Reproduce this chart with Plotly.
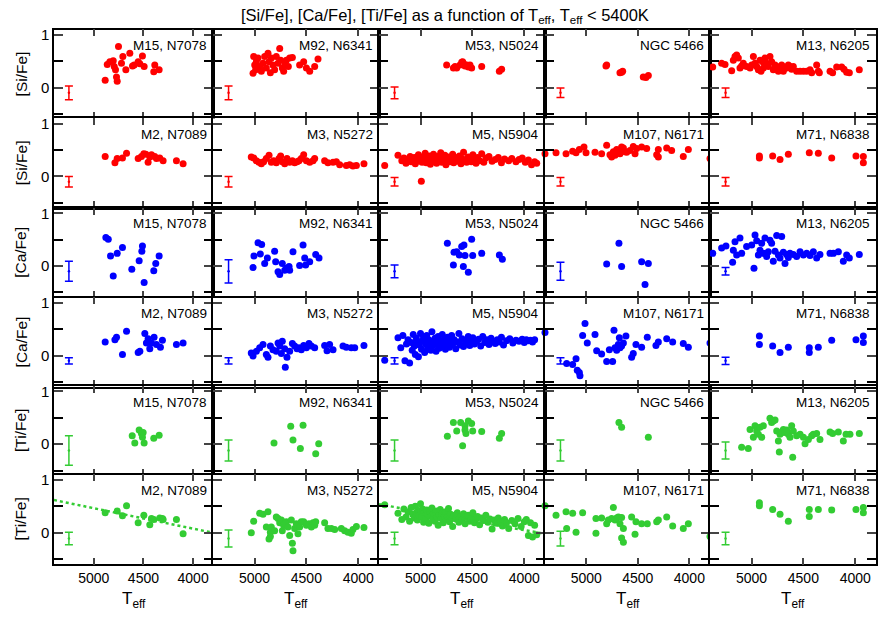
import plotly.graph_objects as go

# ---- data: Teff and abundance ratios ----
# row 1 / 3 / 5 clusters: M15, M92, M53, NGC 5466, M13
# row 2 / 4 / 6 clusters: M2, M3, M5, M107, M71

m15_si_t = [4885, 4864, 4838, 4804, 4794, 4781, 4771, 4764, 4751, 4721, 4707, 4677, 4637, 4610, 4593, 4553, 4536, 4510, 4493, 4386, 4396, 4342]
m15_si = [0.14, 0.44, 0.49, 0.51, 0.40, 0.34, 0.20, 0.12, 0.78, 0.46, 0.59, 0.34, 0.65, 0.41, 0.43, 0.49, 0.45, 0.60, 0.40, 0.43, 0.30, 0.34]

m92_si_t = [5014, 5008, 4998, 4989, 4982, 4966, 4950, 4934, 4918, 4902, 4886, 4870, 4860, 4847, 4838, 4822, 4806, 4790, 4773, 4757, 4748, 4732, 4719, 4706, 4693, 4674, 4661, 4635, 4565, 4526, 4500, 4468, 4420, 4388]
m92_si = [0.27, 0.59, 0.43, 0.34, 0.49, 0.56, 0.40, 0.31, 0.46, 0.59, 0.37, 0.65, 0.49, 0.28, 0.56, 0.43, 0.34, 0.59, 0.46, 0.74, 0.52, 0.37, 0.31, 0.43, 0.52, 0.40, 0.56, 0.57, 0.43, 0.49, 0.37, 0.31, 0.40, 0.54]

m53_si_t = [4748, 4683, 4667, 4651, 4619, 4603, 4594, 4587, 4571, 4555, 4539, 4523, 4507, 4410, 4240, 4218]
m53_si = [0.43, 0.37, 0.40, 0.37, 0.43, 0.48, 0.49, 0.46, 0.41, 0.43, 0.39, 0.43, 0.37, 0.40, 0.31, 0.35]

n5466_si_t = [4809, 4802, 4673, 4657, 4647, 4447, 4421, 4398]
n5466_si = [0.41, 0.43, 0.28, 0.29, 0.31, 0.20, 0.19, 0.23]

m13_si_t = [5374, 5288, 5255, 5191, 5175, 5159, 5143, 5127, 5111, 5095, 5079, 5047, 5014, 4998, 4982, 4966, 4950, 4934, 4918, 4908, 4892, 4886, 4870, 4854, 4838, 4822, 4806, 4790, 4773, 4757, 4741, 4725, 4709, 4693, 4661, 4645, 4629, 4613, 4597, 4565, 4532, 4500, 4468, 4436, 4420, 4372, 4356, 4346, 4243, 4218, 4179, 4131, 4108, 4083, 4057, 3961]
m13_si = [0.39, 0.46, 0.44, 0.32, 0.52, 0.59, 0.62, 0.56, 0.37, 0.41, 0.46, 0.40, 0.37, 0.43, 0.59, 0.46, 0.40, 0.34, 0.52, 0.31, 0.49, 0.37, 0.56, 0.46, 0.40, 0.59, 0.49, 0.34, 0.43, 0.40, 0.31, 0.37, 0.43, 0.31, 0.37, 0.43, 0.40, 0.35, 0.40, 0.31, 0.31, 0.31, 0.31, 0.34, 0.28, 0.43, 0.31, 0.28, 0.31, 0.28, 0.39, 0.39, 0.35, 0.29, 0.28, 0.34]

m2_si_t = [4885, 4787, 4764, 4711, 4670, 4553, 4520, 4496, 4476, 4453, 4436, 4419, 4386, 4369, 4336, 4302, 4168, 4101]
m2_si = [0.38, 0.26, 0.34, 0.35, 0.44, 0.34, 0.38, 0.43, 0.42, 0.27, 0.37, 0.41, 0.38, 0.34, 0.35, 0.30, 0.30, 0.24]

m3_si_t = [5031, 5008, 4982, 4957, 4934, 4912, 4886, 4860, 4838, 4815, 4790, 4764, 4748, 4732, 4709, 4687, 4661, 4635, 4613, 4590, 4571, 4549, 4526, 4500, 4468, 4436, 4420, 4324, 4292, 4243, 4211, 4179, 4115, 4083, 4051, 4018, 3945]
m3_si = [0.37, 0.35, 0.30, 0.27, 0.24, 0.28, 0.34, 0.40, 0.27, 0.30, 0.26, 0.34, 0.39, 0.28, 0.24, 0.34, 0.27, 0.30, 0.26, 0.28, 0.30, 0.34, 0.41, 0.30, 0.27, 0.30, 0.34, 0.30, 0.26, 0.27, 0.28, 0.22, 0.21, 0.22, 0.20, 0.21, 0.24]

m5_si_t = [5345, 5217, 5180, 5160, 5140, 5120, 5100, 5090, 5075, 5060, 5050, 5040, 5030, 5020, 5010, 4992, 4985, 4975, 4965, 4955, 4945, 4935, 4925, 4915, 4905, 4895, 4885, 4875, 4865, 4855, 4845, 4835, 4825, 4815, 4805, 4795, 4785, 4775, 4765, 4755, 4745, 4735, 4725, 4715, 4700, 4690, 4680, 4665, 4650, 4640, 4625, 4610, 4600, 4585, 4570, 4555, 4540, 4525, 4510, 4495, 4480, 4465, 4450, 4430, 4410, 4390, 4370, 4340, 4310, 4280, 4250, 4220, 4190, 4150, 4120, 4080, 4050, 4020, 3990, 3960, 3930, 3900, 3880]
m5_si = [0.21, 0.40, 0.30, 0.35, 0.25, 0.33, 0.38, 0.28, 0.31, 0.36, 0.24, 0.34, 0.29, 0.41, 0.32, -0.09, 0.27, 0.37, 0.30, 0.44, 0.26, 0.35, 0.31, 0.39, 0.23, 0.33, 0.28, 0.42, 0.30, 0.36, 0.25, 0.38, 0.32, 0.29, 0.45, 0.27, 0.34, 0.31, 0.40, 0.22, 0.35, 0.30, 0.37, 0.28, 0.33, 0.42, 0.26, 0.36, 0.31, 0.29, 0.39, 0.24, 0.34, 0.46, 0.30, 0.27, 0.37, 0.32, 0.28, 0.41, 0.33, 0.25, 0.36, 0.30, 0.43, 0.27, 0.35, 0.38, 0.29, 0.32, 0.36, 0.26, 0.33, 0.30, 0.34, 0.28, 0.32, 0.35, 0.27, 0.31, 0.22, 0.28, 0.25]

m107_si_t = [5400, 5293, 5196, 5132, 5099, 5067, 5022, 5002, 4915, 4851, 4802, 4770, 4754, 4737, 4721, 4705, 4689, 4673, 4657, 4640, 4624, 4608, 4576, 4544, 4527, 4511, 4463, 4414, 4317, 4301, 4301, 4220, 4172, 4059, 4010, 3800]
m107_si = [0.43, 0.45, 0.43, 0.48, 0.45, 0.51, 0.56, 0.45, 0.46, 0.43, 0.59, 0.41, 0.37, 0.47, 0.40, 0.51, 0.49, 0.43, 0.56, 0.54, 0.47, 0.46, 0.49, 0.57, 0.43, 0.53, 0.56, 0.53, 0.41, 0.37, 0.51, 0.54, 0.49, 0.38, 0.51, 0.34]

m71_si_t = [4924, 4924, 4796, 4725, 4645, 4443, 4356, 4227, 3993, 3922, 3922]
m71_si = [0.39, 0.35, 0.39, 0.32, 0.42, 0.45, 0.44, 0.35, 0.39, 0.38, 0.26]

m15_ca_t = [4878, 4854, 4831, 4804, 4764, 4711, 4617, 4543, 4516, 4510, 4493, 4396, 4376, 4342]
m15_ca = [0.54, 0.51, 0.19, -0.19, 0.24, 0.35, -0.06, 0.10, 0.28, 0.38, -0.31, -0.09, 0.05, 0.19]

m92_ca_t = [5014, 5005, 4966, 4944, 4931, 4902, 4876, 4806, 4796, 4773, 4757, 4732, 4709, 4693, 4667, 4661, 4629, 4565, 4532, 4516, 4507, 4468, 4410, 4378]
m92_ca = [-0.03, 0.19, 0.44, 0.23, 0.41, 0.05, 0.15, 0.28, 0.08, -0.11, -0.16, 0.05, -0.08, -0.04, -0.01, -0.08, 0.27, 0.01, 0.40, 0.15, 0.02, 0.08, 0.22, 0.15]

m53_ca_t = [4741, 4683, 4677, 4651, 4626, 4603, 4587, 4581, 4571, 4539, 4507, 4497, 4410, 4240, 4211]
m53_ca = [0.43, 0.02, 0.26, 0.27, 0.21, 0.37, -0.01, 0.40, 0.20, -0.12, 0.51, 0.20, 0.24, 0.21, 0.13]

n5466_ca_t = [4802, 4683, 4657, 4463, 4398, 4430]
n5466_ca = [0.04, 0.43, -0.01, 0.08, 0.05, -0.35]

m13_ca_t = [5374, 5288, 5246, 5182, 5175, 5159, 5143, 5111, 5095, 5047, 4998, 4976, 4966, 4950, 4934, 4918, 4902, 4886, 4870, 4854, 4838, 4822, 4806, 4790, 4773, 4757, 4741, 4725, 4709, 4693, 4677, 4661, 4645, 4629, 4597, 4565, 4532, 4500, 4468, 4436, 4404, 4372, 4340, 4243, 4211, 4163, 4115, 4083, 4057, 3961]
m13_ca = [0.24, 0.34, 0.38, 0.07, 0.30, 0.46, 0.21, 0.53, 0.24, 0.37, 0.40, -0.04, 0.59, 0.48, 0.21, 0.30, 0.43, 0.24, 0.53, 0.18, 0.27, 0.49, 0.43, 0.09, 0.28, 0.58, 0.21, 0.15, 0.56, 0.26, 0.05, 0.22, 0.16, 0.24, 0.22, 0.18, 0.27, 0.21, 0.24, 0.20, 0.27, 0.15, 0.22, 0.24, 0.24, 0.27, 0.09, 0.21, 0.15, 0.22]

m2_ca_t = [4885, 4787, 4771, 4711, 4670, 4553, 4536, 4486, 4470, 4453, 4436, 4419, 4393, 4369, 4329, 4309, 4168, 4101]
m2_ca = [0.26, 0.30, 0.35, 0.02, 0.46, 0.06, 0.08, 0.42, 0.24, 0.32, 0.13, 0.24, 0.35, 0.21, 0.16, 0.29, 0.21, 0.24]

m3_ca_t = [5031, 5014, 4982, 4950, 4918, 4886, 4870, 4847, 4822, 4790, 4773, 4757, 4741, 4732, 4709, 4687, 4661, 4635, 4613, 4590, 4571, 4549, 4526, 4500, 4475, 4452, 4420, 4324, 4301, 4276, 4243, 4147, 4115, 4067, 4034, 3945, 4703]
m3_ca = [0.05, -0.01, 0.08, 0.15, 0.21, 0.02, -0.03, 0.18, 0.11, 0.08, 0.24, 0.18, 0.04, 0.27, 0.13, -0.03, 0.08, 0.23, 0.18, 0.13, 0.15, 0.11, 0.19, 0.15, 0.23, 0.18, 0.15, 0.19, 0.09, 0.21, 0.11, 0.18, 0.16, 0.15, 0.15, 0.19, -0.22]

m5_ca_t = [5345, 5217, 5190, 5170, 5150, 5135, 5120, 5105, 5090, 5080, 5070, 5060, 5050, 5040, 5030, 5020, 5010, 5000, 4990, 4980, 4970, 4960, 4950, 4940, 4930, 4920, 4910, 4900, 4890, 4880, 4870, 4860, 4850, 4840, 4830, 4820, 4810, 4800, 4790, 4780, 4770, 4760, 4750, 4740, 4730, 4720, 4710, 4700, 4690, 4675, 4660, 4645, 4630, 4615, 4600, 4585, 4570, 4555, 4540, 4525, 4510, 4495, 4480, 4460, 4440, 4420, 4400, 4380, 4360, 4340, 4320, 4300, 4280, 4260, 4240, 4220, 4200, 4170, 4140, 4110, 4080, 4050, 4020, 4000, 3980, 3960, 3940, 3920, 3900]
m5_ca = [-0.09, 0.34, 0.15, 0.38, -0.10, 0.22, 0.30, -0.14, 0.25, 0.10, 0.40, 0.18, 0.02, 0.33, 0.26, -0.02, 0.20, 0.42, 0.12, 0.28, 0.35, 0.06, 0.22, 0.38, 0.15, 0.30, 0.24, 0.10, 0.45, 0.19, 0.27, 0.33, 0.08, 0.21, 0.36, 0.14, 0.28, 0.23, 0.40, 0.18, 0.30, 0.12, 0.25, 0.35, 0.20, 0.16, 0.28, 0.38, 0.22, 0.30, 0.13, 0.26, 0.42, 0.20, 0.32, 0.17, 0.28, 0.24, 0.36, 0.19, 0.29, 0.34, 0.22, 0.27, 0.31, 0.18, 0.36, 0.25, 0.30, 0.21, 0.33, 0.27, 0.23, 0.30, 0.26, 0.35, 0.20, 0.28, 0.32, 0.24, 0.29, 0.27, 0.31, 0.25, 0.30, 0.28, 0.29, 0.26, 0.30]

m107_ca_t = [5400, 5190, 5132, 5099, 5087, 5061, 5067, 5035, 5012, 4990, 4915, 4899, 4851, 4802, 4776, 4744, 4731, 4721, 4705, 4689, 4679, 4673, 4657, 4640, 4615, 4560, 4544, 4518, 4463, 4408, 4324, 4301, 4220, 4162, 4059, 4010, 3800]
m107_ca = [0.44, -0.15, -0.17, -0.06, -0.28, -0.38, -0.32, 0.38, 0.61, 0.24, 0.40, 0.09, 0.03, -0.11, 0.11, -0.11, 0.48, 0.15, 0.10, 0.21, 0.34, 0.15, 0.18, 0.24, 0.37, -0.03, 0.04, 0.21, 0.16, 0.35, 0.19, 0.26, 0.32, 0.26, 0.23, 0.16, 0.24]

m71_ca_t = [4924, 4924, 4796, 4725, 4645, 4443, 4443, 4356, 4227, 3993, 3922, 3922]
m71_ca = [0.37, 0.21, 0.18, 0.06, 0.16, 0.15, 0.06, 0.16, 0.29, 0.30, 0.37, 0.25]

m15_ti_t = [4613, 4587, 4543, 4520, 4503, 4510, 4493, 4396, 4342]
m15_ti = [0.16, 0.02, 0.27, 0.20, 0.22, 0.13, 0.02, 0.11, 0.17]

m92_ti_t = [4812, 4651, 4629, 4558, 4532, 4410, 4381]
m92_ti = [0.02, 0.34, 0.08, -0.08, 0.36, -0.18, 0.01]

m53_ti_t = [4741, 4683, 4651, 4613, 4594, 4571, 4571, 4562, 4539, 4507, 4497, 4410, 4240, 4218]
m53_ti = [0.15, 0.41, 0.25, 0.41, -0.03, 0.35, 0.27, 0.20, 0.44, 0.39, 0.25, 0.24, 0.11, 0.20]

n5466_ti_t = [4683, 4657, 4398]
n5466_ti = [0.41, 0.32, 0.13]

m13_ti_t = [5095, 5031, 5014, 4982, 4966, 4950, 4934, 4918, 4902, 4886, 4822, 4806, 4790, 4773, 4757, 4741, 4732, 4725, 4709, 4693, 4677, 4661, 4645, 4629, 4613, 4603, 4597, 4565, 4532, 4500, 4484, 4452, 4420, 4404, 4372, 4340, 4243, 4218, 4163, 4115, 4089, 4051, 3961]
m13_ti = [-0.06, -0.08, 0.28, 0.13, 0.35, 0.25, 0.19, 0.32, 0.13, 0.35, 0.49, 0.41, 0.44, 0.46, 0.25, 0.06, -0.15, 0.19, 0.22, 0.28, 0.22, 0.27, 0.19, 0.13, 0.35, -0.25, 0.25, 0.16, 0.19, 0.13, 0.01, 0.09, 0.16, 0.19, 0.20, 0.09, 0.23, 0.20, 0.23, 0.06, 0.19, 0.19, 0.20]

m2_ti_t = [4885, 4764, 4711, 4670, 4553, 4496, 4436, 4419, 4396, 4336, 4309, 4302, 4168, 4101]
m2_ti = [0.38, 0.41, 0.32, 0.51, 0.19, 0.33, 0.15, 0.27, 0.25, 0.28, 0.27, 0.25, 0.25, -0.02]

m3_ti_t = [5031, 5008, 4950, 4918, 4886, 4870, 4860, 4847, 4838, 4790, 4773, 4757, 4741, 4732, 4719, 4709, 4693, 4677, 4661, 4645, 4635, 4629, 4613, 4597, 4581, 4565, 4549, 4526, 4500, 4475, 4452, 4436, 4420, 4410, 4324, 4292, 4259, 4227, 4163, 4131, 4099, 4067, 4051, 4018, 3945, 4847, 4806]
m3_ti = [0.00, 0.22, 0.37, 0.35, 0.11, 0.40, -0.12, 0.01, 0.11, 0.30, 0.27, 0.19, 0.24, 0.04, 0.14, 0.17, 0.21, 0.11, -0.05, 0.24, -0.20, -0.34, 0.08, 0.17, -0.02, 0.11, 0.21, 0.21, 0.14, 0.17, 0.11, 0.19, 0.14, 0.21, 0.19, 0.08, 0.08, 0.06, 0.08, 0.04, 0.01, -0.01, 0.06, 0.12, 0.10, -0.07, 0.04]

m5_ti_t = [5345, 5217, 5180, 5160, 5140, 5120, 5105, 5090, 5075, 5060, 5050, 5040, 5030, 5020, 5010, 5000, 4990, 4980, 4970, 4960, 4950, 4940, 4930, 4920, 4910, 4900, 4890, 4880, 4870, 4860, 4850, 4840, 4830, 4820, 4810, 4800, 4790, 4780, 4770, 4760, 4750, 4740, 4730, 4720, 4710, 4700, 4690, 4675, 4660, 4645, 4630, 4615, 4600, 4585, 4570, 4555, 4540, 4525, 4510, 4495, 4480, 4465, 4450, 4430, 4410, 4390, 4370, 4350, 4330, 4310, 4290, 4270, 4250, 4230, 4210, 4190, 4170, 4150, 4120, 4090, 4060, 4030, 4000, 3980, 3960, 3940, 3920, 3900, 3880]
m5_ti = [0.53, 0.37, 0.25, 0.45, 0.30, 0.40, 0.22, 0.48, 0.35, 0.28, 0.50, 0.38, 0.24, 0.42, 0.33, 0.55, 0.30, 0.45, 0.20, 0.38, 0.27, 0.43, 0.35, 0.18, 0.40, 0.31, 0.47, 0.25, 0.36, 0.22, 0.41, 0.29, 0.14, 0.34, 0.44, 0.27, 0.37, 0.19, 0.32, 0.40, 0.25, 0.30, 0.46, 0.21, 0.35, 0.28, 0.12, 0.33, 0.26, 0.38, 0.20, 0.31, 0.24, 0.36, 0.17, 0.29, 0.33, 0.22, 0.27, 0.38, 0.19, 0.26, 0.31, 0.15, 0.28, 0.23, 0.33, 0.20, 0.26, 0.07, 0.24, 0.18, 0.28, 0.22, 0.13, 0.25, 0.19, 0.08, 0.23, 0.17, 0.27, 0.12, 0.21, 0.25, -0.05, 0.19, -0.08, 0.14, -0.04]

m107_ti_t = [5400, 5293, 5196, 5190, 5132, 5099, 5035, 4906, 4906, 4851, 4802, 4786, 4754, 4737, 4721, 4705, 4689, 4673, 4657, 4640, 4657, 4640, 4560, 4527, 4518, 4463, 4408, 4317, 4301, 4220, 4162, 4059, 4010, 3800]
m107_ti = [0.51, 0.33, 0.40, 0.08, 0.37, 0.01, 0.38, 0.27, -0.01, 0.28, 0.17, 0.24, 0.27, 0.48, 0.24, 0.28, 0.30, 0.17, 0.29, 0.08, -0.10, -0.18, 0.30, -0.03, 0.21, 0.17, 0.17, 0.21, 0.24, 0.30, 0.13, 0.08, 0.17, -0.07]

m71_ti_t = [4924, 4924, 4796, 4725, 4645, 4443, 4443, 4356, 4227, 3993, 3922, 3922]
m71_ti = [0.57, 0.51, 0.44, 0.35, 0.22, 0.44, 0.31, 0.44, 0.43, 0.44, 0.48, 0.38]

# dotted trend lines in the M2 and M5 [Ti/Fe] panels (end points)
fit_teff = [5400, 3800]
m2_ti_fit = [0.62, 0.00]
m5_ti_fit = [0.54, -0.02]

# typical error bars (half sizes), one per panel, row by row
err_teff = 5250
err_center = [-0.10, -0.10, -0.10, -0.10, -0.12, -0.11]
err_half = [
    [0.13, 0.13, 0.11, 0.09, 0.09],
    [0.10, 0.10, 0.08, 0.08, 0.08],
    [0.19, 0.22, 0.12, 0.17, 0.07],
    [0.06, 0.06, 0.06, 0.06, 0.07],
    [0.28, 0.20, 0.20, 0.20, 0.16],
    [0.12, 0.16, 0.12, 0.14, 0.12],
]

labels_odd = ["M15, N7078", "M92, N6341", "M53, N5024", "NGC 5466", "M13, N6205"]
labels_even = ["M2, N7089", "M3, N5272", "M5, N5904", "M107, N6171", "M71, N6838"]
row_titles = ["[Si/Fe]", "[Si/Fe]", "[Ca/Fe]", "[Ca/Fe]", "[Ti/Fe]", "[Ti/Fe]"]

RED, BLUE, GREEN = "#ff0000", "#0000ff", "#33cc33"
row_colors = [RED, RED, BLUE, BLUE, GREEN, GREEN]

panel_data = [
    [(m15_si_t, m15_si), (m92_si_t, m92_si), (m53_si_t, m53_si), (n5466_si_t, n5466_si), (m13_si_t, m13_si)],
    [(m2_si_t, m2_si), (m3_si_t, m3_si), (m5_si_t, m5_si), (m107_si_t, m107_si), (m71_si_t, m71_si)],
    [(m15_ca_t, m15_ca), (m92_ca_t, m92_ca), (m53_ca_t, m53_ca), (n5466_ca_t, n5466_ca), (m13_ca_t, m13_ca)],
    [(m2_ca_t, m2_ca), (m3_ca_t, m3_ca), (m5_ca_t, m5_ca), (m107_ca_t, m107_ca), (m71_ca_t, m71_ca)],
    [(m15_ti_t, m15_ti), (m92_ti_t, m92_ti), (m53_ti_t, m53_ti), (n5466_ti_t, n5466_ti), (m13_ti_t, m13_ti)],
    [(m2_ti_t, m2_ti), (m3_ti_t, m3_ti), (m5_ti_t, m5_ti), (m107_ti_t, m107_ti), (m71_ti_t, m71_ti)],
]

# ---- geometry (pixels in the 890x623 page) ----
W, H = 890, 623
col_px = [(54, 213), (213, 379), (379, 545), (545, 710), (710, 876)]
row_zero = [85, 174.3, 264.3, 354.3, 443.3, 532.3]
unit = 53.0
Y_LO, Y_HI = -0.6, 1.1
FONT = "Liberation Sans, Arial, sans-serif"

fig = go.Figure()
layout = {}
annotations = []

for r in range(6):
    top = row_zero[r] - Y_HI * unit
    bot = row_zero[r] - Y_LO * unit
    for c in range(5):
        idx = r * 5 + c + 1
        xa = "x" if idx == 1 else f"x{idx}"
        ya = "y" if idx == 1 else f"y{idx}"
        xkey = "xaxis" if idx == 1 else f"xaxis{idx}"
        ykey = "yaxis" if idx == 1 else f"yaxis{idx}"
        x0, x1 = col_px[c]
        layout[xkey] = dict(
            domain=[x0 / W, x1 / W], anchor=ya, range=[5400, 3800],
            tickvals=[5000, 4500, 4000],
            showticklabels=(r == 5), ticks="inside", ticklen=7, tickwidth=1.5,
            showline=True, mirror="allticks", linecolor="black", linewidth=1.5,
            showgrid=False, zeroline=False,
            tickfont=dict(family=FONT, size=14, color="black"),
        )
        layout[ykey] = dict(
            domain=[1 - bot / H, 1 - top / H], anchor=xa, range=[Y_LO, Y_HI],
            tickvals=[0, 1],
            minor=dict(tickvals=[-0.5, 0.5], ticks="inside", ticklen=9, tickwidth=1.5,
                       tickcolor="black", showgrid=False),
            showticklabels=(c == 0), ticks="inside", ticklen=9, tickwidth=1.5,
            showline=True, mirror="allticks", linecolor="black", linewidth=1.5,
            showgrid=False, zeroline=False,
            tickfont=dict(family=FONT, size=15, color="black"),
        )
        color = row_colors[r]
        teff, vals = panel_data[r][c]
        fig.add_trace(go.Scatter(
            x=teff, y=vals, mode="markers", xaxis=xa, yaxis=ya,
            marker=dict(color=color, size=7, line=dict(width=0)),
            cliponaxis=False, showlegend=False,
        ))
        fig.add_trace(go.Scatter(
            x=[err_teff], y=[err_center[r]], mode="markers", xaxis=xa, yaxis=ya,
            marker=dict(color=color, size=2.5),
            error_y=dict(type="data", array=[err_half[r][c]], color=color,
                         thickness=1.5, width=4),
            showlegend=False,
        ))
        label = labels_odd[c] if r % 2 == 0 else labels_even[c]
        annotations.append(dict(
            text=label, xref="paper", yref="paper",
            x=(x1 - 4) / W, y=1 - (top + 16) / H, xanchor="right", yanchor="middle",
            showarrow=False, font=dict(family=FONT, size=13.5, color="black"),
        ))

    annotations.append(dict(
        text=row_titles[r], xref="paper", yref="paper", textangle=-90,
        x=21 / W, y=1 - (top + bot) / 2 / H, xanchor="center", yanchor="middle",
        showarrow=False, font=dict(family=FONT, size=15.5, color="black"),
    ))

# dotted trend lines, bottom row
fig.add_trace(go.Scatter(x=fit_teff, y=m2_ti_fit, mode="lines", xaxis="x26", yaxis="y26",
                         line=dict(color=GREEN, width=2.5, dash="dot"), showlegend=False))
fig.add_trace(go.Scatter(x=fit_teff, y=m5_ti_fit, mode="lines", xaxis="x28", yaxis="y28",
                         line=dict(color=GREEN, width=2.5, dash="dot"), showlegend=False))

for c in range(5):
    x0, x1 = col_px[c]
    annotations.append(dict(
        text="T<sub>eff</sub>", xref="paper", yref="paper",
        x=(x0 + x1) / 2 / W, y=1 - 600 / H, xanchor="center", yanchor="middle",
        showarrow=False, font=dict(family=FONT, size=17, color="black"),
    ))

annotations.append(dict(
    text="[Si/Fe], [Ca/Fe], [Ti/Fe] as a function of T<sub>eff</sub>, T<sub>eff</sub> < 5400K",
    xref="paper", yref="paper", x=445 / W, y=1 - 13 / H, xanchor="center", yanchor="middle",
    showarrow=False, font=dict(family=FONT, size=16.5, color="black"),
))

fig.update_layout(
    width=W, height=H, margin=dict(l=0, r=0, t=0, b=0),
    paper_bgcolor="white", plot_bgcolor="white",
    annotations=annotations, **layout,
)
# the page body has a default 8px margin; drop it so the figure sits at the window origin
fig.write_html("out.html", config={"displayModeBar": False},
               post_script="document.body.style.margin='0';")
